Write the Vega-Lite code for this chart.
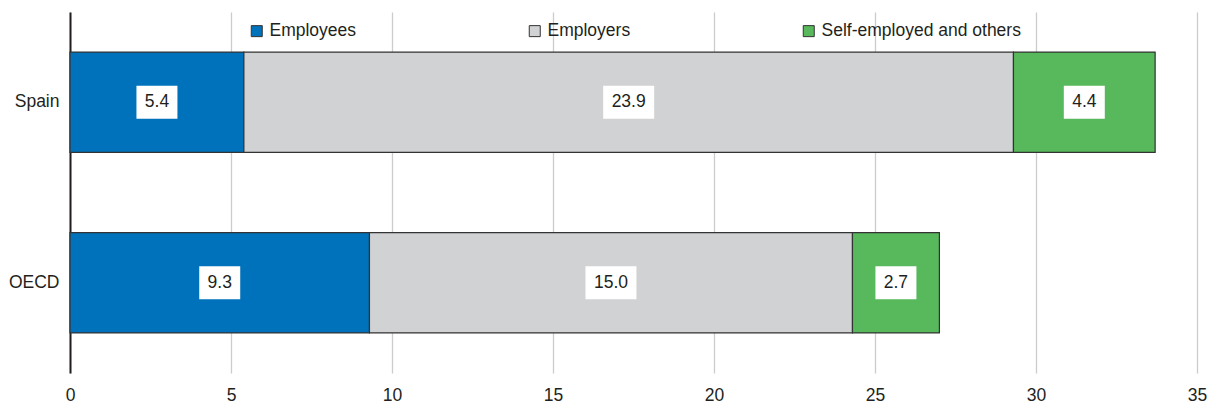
{
  "$schema": "https://vega.github.io/schema/vega-lite/v6.json",
  "autosize": {"type": "none"},
  "width": 1127,
  "height": 361,
  "padding": {"left": 70, "top": 12, "right": 11, "bottom": 34},
  "config": {
    "font": "Liberation Sans",
    "view": {"stroke": null},
    "axis": {"labelFont": "Liberation Sans", "labelFontSize": 17.5, "labelColor": "#231f20"}
  },
  "data": {
    "values": [
      {"country": "Spain", "category": "Employees", "order": 1, "value": 5.4},
      {"country": "Spain", "category": "Employers", "order": 2, "value": 23.9},
      {"country": "Spain", "category": "Self-employed and others", "order": 3, "value": 4.4},
      {"country": "OECD", "category": "Employees", "order": 1, "value": 9.3},
      {"country": "OECD", "category": "Employers", "order": 2, "value": 15.0},
      {"country": "OECD", "category": "Self-employed and others", "order": 3, "value": 2.7}
    ]
  },
  "transform": [
    {"stack": "value", "groupby": ["country"], "sort": [{"field": "order"}], "as": ["x0", "x1"]},
    {"calculate": "(datum.x0 + datum.x1) / 2", "as": "mid"}
  ],
  "encoding": {
    "y": {
      "field": "country", "type": "nominal", "sort": ["Spain", "OECD"], "title": null,
      "scale": {"paddingInner": 0.444, "paddingOuter": 0.222},
      "axis": {"ticks": false, "domain": true, "domainColor": "#231f20", "domainWidth": 2, "labelPadding": 11, "grid": false}
    }
  },
  "layer": [
    {
      "mark": {"type": "bar", "stroke": "#333333", "strokeWidth": 1.2},
      "encoding": {
        "x": {
          "field": "x0", "type": "quantitative", "title": null,
          "scale": {"domain": [0, 35], "nice": false},
          "axis": {"values": [0, 5, 10, 15, 20, 25, 30, 35], "grid": true, "gridColor": "#cccccc", "gridWidth": 1.3, "ticks": false, "domain": false, "labelPadding": 13, "labelFlush": false}
        },
        "x2": {"field": "x1"},
        "fill": {
          "field": "category", "type": "nominal",
          "scale": {"domain": ["Employees", "Employers", "Self-employed and others"], "range": ["#0072bc", "#d1d2d4", "#57b95b"]},
          "legend": {
            "title": null, "orient": "none", "legendX": 178, "legendY": 10, "direction": "horizontal", "columns": 3,
            "columnPadding": 169, "symbolType": "square", "symbolSize": 121, "symbolStrokeColor": "#333333", "symbolStrokeWidth": 1,
            "labelFont": "Liberation Sans", "labelFontSize": 17.5, "labelColor": "#231f20", "labelOffset": 4, "labelLimit": 400
          }
        }
      }
    },
    {
      "transform": [{"filter": "datum.value < 10"}],
      "mark": {"type": "point", "shape": "M-1.242,-1H1.242V1H-1.242Z", "size": 1089, "filled": true, "fill": "white", "opacity": 1, "strokeWidth": 0},
      "encoding": {"x": {"field": "mid", "type": "quantitative"}}
    },
    {
      "transform": [{"filter": "datum.value >= 10"}],
      "mark": {"type": "point", "shape": "M-1.545,-1H1.545V1H-1.545Z", "size": 1089, "filled": true, "fill": "white", "opacity": 1, "strokeWidth": 0},
      "encoding": {"x": {"field": "mid", "type": "quantitative"}}
    },
    {
      "mark": {"type": "text", "font": "Liberation Sans", "fontSize": 17.5, "color": "#231f20", "align": "center", "baseline": "middle"},
      "encoding": {"x": {"field": "mid", "type": "quantitative"}, "text": {"field": "value", "type": "quantitative", "format": ".1f"}}
    }
  ]
}
